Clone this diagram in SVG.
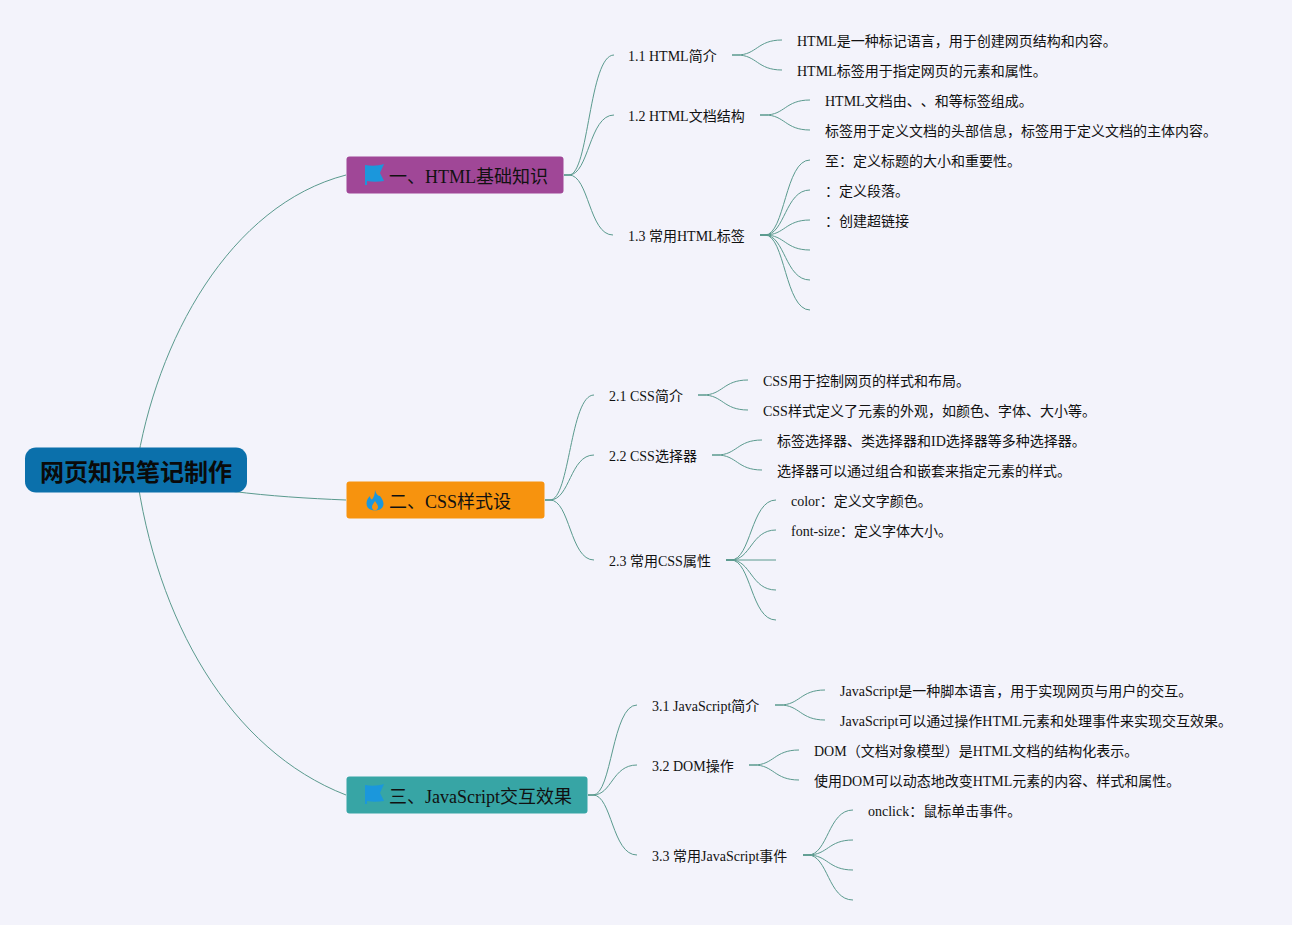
<svg xmlns="http://www.w3.org/2000/svg" width="1292" height="925" viewBox="0 0 1292 925">
<style>
text{font-family:"Liberation Serif","Noto Sans CJK SC",serif;fill:#111}
.l{font-size:14px}
.b{font-size:18px}
.r{font-size:24px;font-weight:700;fill:#0a0a0a}
.sp{text-spacing-trim:space-all}
#connectors path{fill:none;stroke:#5a9a8e;stroke-width:1}
.ic{fill:#1b97dc}
</style>
<rect width="1292" height="925" fill="#f3f3fb"/>
<g id="connectors">
<path d="M136 470C156 340 230 205 346 175"/>
<path d="M136 470C190 490 270 497 346 500"/>
<path d="M136 470C156 620 230 750 346 795"/>
<path d="M564 175H569C589 175 589 55 614 55"/>
<path d="M564 175H569C589 175 589 115 614 115"/>
<path d="M564 175H569C589 175 589 235 613 235"/>
<path d="M732 55H737C757 55 757 40 782 40"/>
<path d="M732 55H737C757 55 757 70 782 70"/>
<path d="M760 115H765C785 115 785 100 810 100"/>
<path d="M760 115H765C785 115 785 130 810 130"/>
<path d="M760 235H765C785 235 785 160 810 160"/>
<path d="M760 235H765C785 235 785 190 810 190"/>
<path d="M760 235H765C785 235 785 220 810 220"/>
<path d="M760 235H765C785 235 785 250 810 250"/>
<path d="M760 235H765C785 235 785 280 810 280"/>
<path d="M760 235H765C785 235 785 310 810 310"/>
<path d="M545 500H550C570 500 570 395 594 395"/>
<path d="M545 500H550C570 500 570 455 594 455"/>
<path d="M545 500H550C570 500 570 560 594 560"/>
<path d="M698 395H703C723 395 723 380 748 380"/>
<path d="M698 395H703C723 395 723 410 748 410"/>
<path d="M712 455H717C737 455 737 440 762 440"/>
<path d="M712 455H717C737 455 737 470 762 470"/>
<path d="M726 560H731C751 560 751 500 776 500"/>
<path d="M726 560H731C751 560 751 530 776 530"/>
<path d="M726 560H776"/>
<path d="M726 560H731C751 560 751 590 776 590"/>
<path d="M726 560H731C751 560 751 620 776 620"/>
<path d="M588 795H593C612 795 612 705 637 705"/>
<path d="M588 795H593C612 795 612 765 637 765"/>
<path d="M588 795H593C612 795 612 855 637 855"/>
<path d="M775 705H780C800 705 800 690 825 690"/>
<path d="M775 705H780C800 705 800 720 825 720"/>
<path d="M749 765H754C774 765 774 750 799 750"/>
<path d="M749 765H754C774 765 774 780 799 780"/>
<path d="M803 855H808C828 855 828 810 853 810"/>
<path d="M803 855H808C828 855 828 840 853 840"/>
<path d="M803 855H808C828 855 828 870 853 870"/>
<path d="M803 855H808C828 855 828 900 853 900"/>
</g>
<g id="root"><rect x="25" y="447.500" width="222" height="45" rx="11" fill="#0b70ab"/><text class="r" x="40" y="481">网页知识笔记制作</text></g>
<g id="b1"><rect x="346.500" y="156.500" width="217" height="37" rx="3" fill="#a04797"/><path class="ic" d="M365 165C371 166 378 166 384 164L380 173L384 181C378 182 372 182 367 181V185H365Z"/><text class="b" x="389" y="183">一、HTML基础知识</text></g>
<g id="b2"><rect x="346.500" y="481.500" width="198" height="37" rx="3" fill="#f7930e"/><path class="ic" d="M375 490C376 494 378 496 380 496C382 499 383.500 501 383.500 504C383.500 508 380 510.500 375 510.500C370 510.500 366.500 508 366.500 503.500C366.500 500 368 498 370 496C370 498 371 499.500 372 499.500C374 497 375 494 375 490Z"/><path fill="#f7930e" d="M375 501C376.500 503.500 378 505 378 507C378 509 376.500 510.500 375 510.500C373.500 510.500 372 509 372 507C372 505 373.500 503.500 375 501Z"/><text class="b" x="389" y="508">二、CSS样式设</text></g>
<g id="b3"><rect x="346.500" y="776.500" width="241" height="37" rx="3" fill="#37a5a5"/><path class="ic" d="M365 785C371 786 378 786 384 784L380 793L384 801C378 802 372 802 367 801V804H365Z"/><text class="b" x="389" y="803">三、JavaScript交互效果</text></g>
<g id="n11"><text class="l" x="628" y="61">1.1 HTML简介</text></g>
<g id="n111"><text class="l" x="797" y="46">HTML是一种标记语言，用于创建网页结构和内容。</text></g>
<g id="n112"><text class="l" x="797" y="76">HTML标签用于指定网页的元素和属性。</text></g>
<g id="n12"><text class="l" x="628" y="121">1.2 HTML文档结构</text></g>
<g id="n121"><text class="l sp" x="825" y="106">HTML文档由、、和等标签组成。</text></g>
<g id="n122"><text class="l" x="825" y="136">标签用于定义文档的头部信息，标签用于定义文档的主体内容。</text></g>
<g id="n13"><text class="l" x="628" y="241">1.3 常用HTML标签</text></g>
<g id="n131"><text class="l" x="825" y="166">至：定义标题的大小和重要性。</text></g>
<g id="n132"><text class="l" x="825" y="196">：定义段落。</text></g>
<g id="n133"><text class="l" x="825" y="226">：创建超链接</text></g>
<g id="n21"><text class="l" x="609" y="401">2.1 CSS简介</text></g>
<g id="n211"><text class="l" x="763" y="386">CSS用于控制网页的样式和布局。</text></g>
<g id="n212"><text class="l" x="763" y="416">CSS样式定义了元素的外观，如颜色、字体、大小等。</text></g>
<g id="n22"><text class="l" x="609" y="461">2.2 CSS选择器</text></g>
<g id="n221"><text class="l" x="777" y="446">标签选择器、类选择器和ID选择器等多种选择器。</text></g>
<g id="n222"><text class="l" x="777" y="476">选择器可以通过组合和嵌套来指定元素的样式。</text></g>
<g id="n23"><text class="l" x="609" y="566">2.3 常用CSS属性</text></g>
<g id="n231"><text class="l" x="791" y="506">color：定义文字颜色。</text></g>
<g id="n232"><text class="l" x="791" y="536">font-size：定义字体大小。</text></g>
<g id="n31"><text class="l" x="652" y="711">3.1 JavaScript简介</text></g>
<g id="n311"><text class="l" x="840" y="696">JavaScript是一种脚本语言，用于实现网页与用户的交互。</text></g>
<g id="n312"><text class="l" x="840" y="726">JavaScript可以通过操作HTML元素和处理事件来实现交互效果。</text></g>
<g id="n32"><text class="l" x="652" y="771">3.2 DOM操作</text></g>
<g id="n321"><text class="l" x="814" y="756">DOM（文档对象模型）是HTML文档的结构化表示。</text></g>
<g id="n322"><text class="l" x="814" y="786">使用DOM可以动态地改变HTML元素的内容、样式和属性。</text></g>
<g id="n33"><text class="l" x="652" y="861">3.3 常用JavaScript事件</text></g>
<g id="n331"><text class="l" x="868" y="816">onclick：鼠标单击事件。</text></g>
</svg>
